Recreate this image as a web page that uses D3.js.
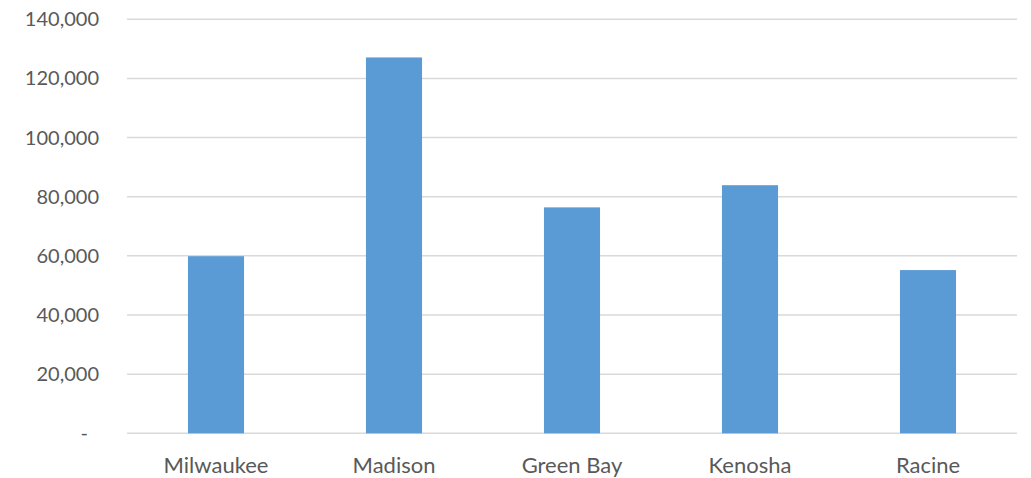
<!DOCTYPE html>
<html>
<head>
<meta charset="utf-8">
<script src="https://cdn.jsdelivr.net/npm/d3@7"></script>
<style>
  body { margin: 0; background: #fff; }
  text { font-family: Lato, "Open Sans", sans-serif; fill: #595959; }
</style>
</head>
<body>
<div id="root"></div>
<script>
const cities = ["Milwaukee", "Madison", "Green Bay", "Kenosha", "Racine"];
const values = [59900, 127100, 76400, 83900, 55200];
const yTicks = [0, 20000, 40000, 60000, 80000, 100000, 120000, 140000];

const w = 1031;
const h = 478;
const plotLeft = 127, plotRight = 1017, plotTop = 19.3, plotBottom = 433.3;

const svg = d3.select("#root")
  .append("svg")
  .attr("width", w)
  .attr("height", h);

const xScale = d3.scaleBand()
  .domain(cities)
  .range([plotLeft, plotRight])
  .paddingInner(0.685)
  .paddingOuter(0.3425);

const yScale = d3.scaleLinear()
  .domain([0, 140000])
  .range([plotBottom, plotTop]);

// gridlines
svg.append("g")
  .selectAll("line")
  .data(yTicks)
  .enter()
  .append("line")
  .attr("x1", plotLeft)
  .attr("x2", plotRight)
  .attr("y1", d => yScale(d))
  .attr("y2", d => yScale(d))
  .attr("stroke", "#d9d9d9")
  .attr("stroke-width", 1.5);

// y labels
svg.append("g")
  .selectAll("text")
  .data(yTicks)
  .enter()
  .append("text")
  .attr("x", d => d === 0 ? 88 : 99)
  .attr("y", d => yScale(d))
  .attr("dy", "0.35em")
  .attr("text-anchor", "end")
  .style("font-size", "20px")
  .text(d => d === 0 ? "-" : d3.format(",")(d));

svg.append("g")
  .selectAll("rect")
  .data(values)
  .enter()
  .append("rect")
  .attr("x", (d, i) => xScale(cities[i]))
  .attr("y", d => yScale(d))
  .attr("width", xScale.bandwidth())
  .attr("height", d => plotBottom - yScale(d))
  .attr("fill", "#5b9bd5");

// x labels
svg.append("g")
  .selectAll("text")
  .data(cities)
  .enter()
  .append("text")
  .attr("x", d => xScale(d) + xScale.bandwidth() / 2)
  .attr("y", 473)
  .attr("text-anchor", "middle")
  .style("font-size", "22px")
  .text(d => d);
</script>
</body>
</html>
